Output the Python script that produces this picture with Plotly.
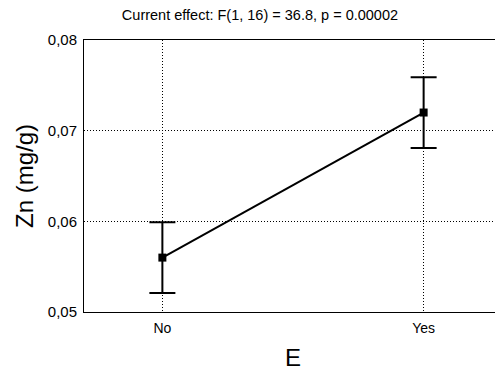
import plotly.graph_objects as go

categories = ["No", "Yes"]
means = [0.0560, 0.0720]
errors = [0.0039, 0.0039]
y_ticks = [0.05, 0.06, 0.07, 0.08]
y_tick_labels = ["0,05", "0,06", "0,07", "0,08"]

fig = go.Figure()
fig.add_trace(go.Scatter(
    x=[0, 1], y=means, mode="lines+markers",
    line=dict(color="black", width=2),
    marker=dict(symbol="square", size=8, color="black"),
    error_y=dict(type="data", array=errors, visible=True, color="black", thickness=2, width=13),
    showlegend=False,
))

fig.update_layout(
    width=495, height=372,
    margin=dict(l=76, r=1, t=32, b=68),
    paper_bgcolor="white", plot_bgcolor="white",
    font=dict(family="Liberation Sans, Arial, sans-serif", color="black"),
    title=dict(text="Current effect: F(1, 16) = 36.8, p = 0.00002", x=0.509, xanchor="center",
               xref="container", yref="container",
               y=0.981, yanchor="middle", font=dict(size=14.5)),
    xaxis=dict(range=[-0.3, 1.3], tickvals=[0, 1], ticktext=categories,
               showgrid=True, gridcolor="black", griddash="1px,2px", gridwidth=1,
               showline=True, linecolor="black", linewidth=1, mirror=True,
               ticks="", zeroline=False, tickfont=dict(size=14), ticklabelstandoff=3,
               title=dict(text="E", font=dict(size=24), standoff=14)),
    yaxis=dict(range=[0.05, 0.08], tickvals=y_ticks, ticktext=y_tick_labels,
               showgrid=True, gridcolor="black", griddash="1px,2px", gridwidth=1,
               showline=True, linecolor="black", linewidth=1, mirror=True,
               ticks="", zeroline=False, tickfont=dict(size=15), ticklabelstandoff=3,
               title=dict(text="Zn (mg/g)", font=dict(size=24), standoff=7)),
)

fig.write_html("out.html")
